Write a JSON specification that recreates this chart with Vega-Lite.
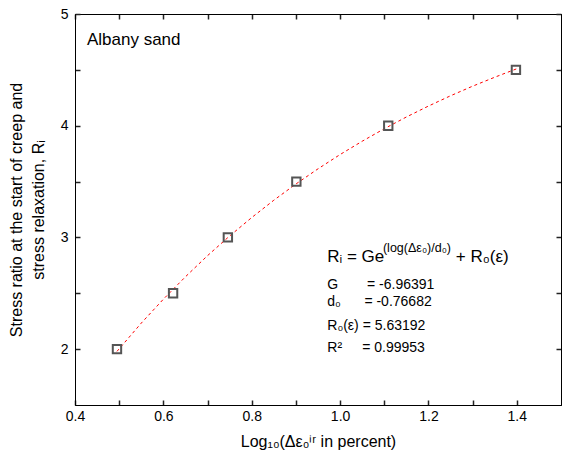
{
  "$schema": "https://vega.github.io/schema/vega-lite/v6.json",
  "autosize": "none",
  "width": 486,
  "height": 391,
  "padding": {"left": 75, "top": 14, "right": 2, "bottom": 56},
  "background": "white",
  "config": {
    "view": {"stroke": "black", "strokeWidth": 1},
    "font": "Liberation Sans",
    "axis": {
      "domainColor": "black",
      "labelColor": "black",
      "titleColor": "black",
      "grid": false,
      "ticks": true,
      "labelFont": "Liberation Sans",
      "titleFont": "Liberation Sans",
      "labelFontSize": 14,
      "titleFontSize": 16,
      "titleFontWeight": "normal"
    }
  },
  "datasets": {
    "points": [
      {"x": 0.495, "r": 2.0},
      {"x": 0.622, "r": 2.5},
      {"x": 0.746, "r": 3.0},
      {"x": 0.901, "r": 3.5},
      {"x": 1.109, "r": 4.0},
      {"x": 1.398, "r": 4.5}
    ],
    "curve": [
      {"x": 0.495, "r": 1.980},
      {"x": 0.55, "r": 2.233},
      {"x": 0.60, "r": 2.447},
      {"x": 0.65, "r": 2.648},
      {"x": 0.70, "r": 2.837},
      {"x": 0.75, "r": 3.013},
      {"x": 0.80, "r": 3.178},
      {"x": 0.85, "r": 3.333},
      {"x": 0.90, "r": 3.478},
      {"x": 0.95, "r": 3.614},
      {"x": 1.00, "r": 3.742},
      {"x": 1.05, "r": 3.861},
      {"x": 1.10, "r": 3.973},
      {"x": 1.15, "r": 4.078},
      {"x": 1.20, "r": 4.176},
      {"x": 1.25, "r": 4.268},
      {"x": 1.30, "r": 4.354},
      {"x": 1.35, "r": 4.434},
      {"x": 1.40, "r": 4.510}
    ],
    "notes": [
      {"kind": "title", "x": 0.427, "y": 4.77, "text": "Albany sand"},
      {"kind": "eq", "x": 0.971, "y": 2.777, "text": "Rᵢ = Ge"},
      {"kind": "sup", "x": 1.097, "y": 2.866, "text": "(log(Δε₀)/d₀)"},
      {"kind": "eq", "x": 1.262, "y": 2.777, "text": "+ R₀(ε)"},
      {"kind": "par", "x": 0.971, "y": 2.536, "text": "G"},
      {"kind": "par", "x": 1.061, "y": 2.536, "text": "= -6.96391"},
      {"kind": "par", "x": 0.971, "y": 2.384, "text": "d₀"},
      {"kind": "par", "x": 1.055, "y": 2.384, "text": "= -0.76682"},
      {"kind": "par", "x": 0.971, "y": 2.170, "text": "R₀(ε) = 5.63192"},
      {"kind": "par", "x": 0.971, "y": 1.973, "text": "R²"},
      {"kind": "par", "x": 1.050, "y": 1.973, "text": "= 0.99953"}
    ]
  },
  "layer": [
    {
      "data": {"name": "curve"},
      "mark": {"type": "line", "color": "#ff0000", "strokeWidth": 1, "strokeDash": [3, 3]},
      "encoding": {
        "x": {
          "field": "x", "type": "quantitative",
          "scale": {"domain": [0.4, 1.5], "nice": false, "zero": false},
          "axis": {
            "orient": "bottom",
            "values": [0.4, 0.5, 0.6, 0.7, 0.8, 0.9, 1.0, 1.1, 1.2, 1.3, 1.4],
            "labelExpr": "round(datum.value*10)%2==0 ? format(datum.value,'.1f') : ''",
            "tickSize": -5,
            "tickColor": "#222222",
            "tickWidth": 1.5,
            "encode": {"ticks": {"update": {"y2": {"signal": "round(datum.value*10)%2==0 ? -5 : -3"}}}},
            "labelPadding": 9,
            "labelFlush": false,
            "title": "Log₁₀(Δε₀ⁱʳ in percent)",
            "titlePadding": 10
          }
        },
        "y": {
          "field": "r", "type": "quantitative",
          "scale": {"domain": [1.5, 5], "nice": false, "zero": false},
          "axis": {
            "orient": "left",
            "values": [2, 2.5, 3, 3.5, 4, 4.5, 5],
            "labelExpr": "datum.value%1==0 ? format(datum.value,'d') : ''",
            "tickSize": -5,
            "tickColor": "#222222",
            "tickWidth": 1.5,
            "encode": {"ticks": {"update": {"x2": {"signal": "datum.value%1==0 ? 5 : 3"}}}},
            "labelPadding": 12,
            "labelFlush": false,
            "title": ["Stress ratio at the start of creep and", "stress relaxation, Rᵢ"],
            "titlePadding": 14,
            "titleLineHeight": 22
          }
        }
      }
    },
    {
      "data": {"name": "points"},
      "mark": {"type": "point", "shape": "square", "filled": false, "color": "#555555", "strokeWidth": 2, "size": 70, "opacity": 1},
      "encoding": {
        "x": {
          "field": "x", "type": "quantitative",
          "axis": {
            "orient": "top",
            "values": [0.4, 0.5, 0.6, 0.7, 0.8, 0.9, 1.0, 1.1, 1.2, 1.3, 1.4],
            "labels": false,
            "tickSize": -5,
            "tickColor": "#222222",
            "tickWidth": 1.5,
            "encode": {"ticks": {"update": {"y2": {"signal": "round(datum.value*10)%2==0 ? 5 : 3"}}}},
            "title": null
          }
        },
        "y": {
          "field": "r", "type": "quantitative",
          "axis": {
            "orient": "right",
            "values": [2, 2.5, 3, 3.5, 4, 4.5, 5],
            "labels": false,
            "tickSize": -5,
            "tickColor": "#222222",
            "tickWidth": 1.5,
            "encode": {"ticks": {"update": {"x2": {"signal": "datum.value%1==0 ? -5 : -3"}}}},
            "title": null
          }
        }
      }
    },
    {
      "data": {"name": "notes"},
      "transform": [{"filter": "datum.kind == 'title'"}],
      "mark": {"type": "text", "align": "left", "baseline": "middle", "fontSize": 17, "color": "black"},
      "encoding": {
        "x": {"field": "x", "type": "quantitative", "axis": null},
        "y": {"field": "y", "type": "quantitative", "axis": null},
        "text": {"field": "text"}
      }
    },
    {
      "data": {"name": "notes"},
      "transform": [{"filter": "datum.kind == 'eq'"}],
      "mark": {"type": "text", "align": "left", "baseline": "alphabetic", "fontSize": 17, "color": "black"},
      "encoding": {
        "x": {"field": "x", "type": "quantitative", "axis": null},
        "y": {"field": "y", "type": "quantitative", "axis": null},
        "text": {"field": "text"}
      }
    },
    {
      "data": {"name": "notes"},
      "transform": [{"filter": "datum.kind == 'sup'"}],
      "mark": {"type": "text", "align": "left", "baseline": "alphabetic", "fontSize": 12.5, "color": "black"},
      "encoding": {
        "x": {"field": "x", "type": "quantitative", "axis": null},
        "y": {"field": "y", "type": "quantitative", "axis": null},
        "text": {"field": "text"}
      }
    },
    {
      "data": {"name": "notes"},
      "transform": [{"filter": "datum.kind == 'par'"}],
      "mark": {"type": "text", "align": "left", "baseline": "alphabetic", "fontSize": 14, "color": "black"},
      "encoding": {
        "x": {"field": "x", "type": "quantitative", "axis": null},
        "y": {"field": "y", "type": "quantitative", "axis": null},
        "text": {"field": "text"}
      }
    }
  ],
  "resolve": {"axis": {"x": "independent", "y": "independent"}}
}
